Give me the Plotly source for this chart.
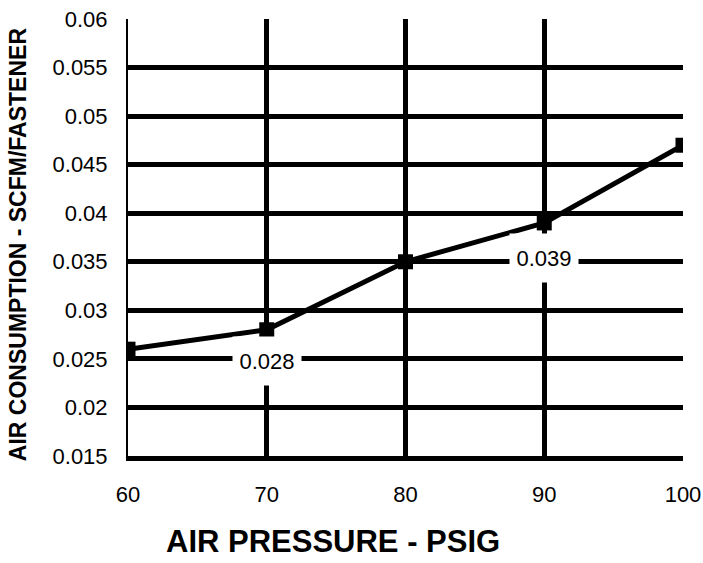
import plotly.graph_objects as go

pressure = [60, 70, 80, 90, 100]
consumption = [0.026, 0.028, 0.035, 0.039, 0.047]
label_x = [70, 90]
label_y = [0.0248, 0.0354]
label_text = ["0.028", "0.039"]
y_ticks = [0.015, 0.02, 0.025, 0.03, 0.035, 0.04, 0.045, 0.05, 0.055, 0.06]
y_tick_text = ["0.015", "0.02", "0.025", "0.03", "0.035", "0.04", "0.045", "0.05", "0.055", "0.06"]
x_ticks = [60, 70, 80, 90, 100]

FONT = "Liberation Sans, Arial, Helvetica, sans-serif"

fig = go.Figure()
fig.add_trace(go.Scatter(
    x=pressure, y=consumption, mode="lines+markers",
    line=dict(color="black", width=5),
    marker=dict(symbol="square", size=15, color="black"),
    showlegend=False, hoverinfo="skip",
))

for xv, yv, t in zip(label_x, label_y, label_text):
    fig.add_annotation(x=xv, y=yv, text=t, showarrow=False,
                       bgcolor="white", width=66, height=46,
                       font=dict(family=FONT, size=22, color="black"))

fig.add_annotation(xref="paper", yref="paper", x=0.37, y=-0.195,
                   text="<b>AIR PRESSURE - PSIG</b>", showarrow=False,
                   xanchor="center", yanchor="middle",
                   font=dict(family=FONT, size=31, color="black"))
fig.add_annotation(xref="paper", yref="paper", x=-0.198, y=0.485,
                   text="<b>AIR CONSUMPTION - SCFM/FASTENER</b>", showarrow=False,
                   textangle=-90, xanchor="center", yanchor="middle",
                   font=dict(family=FONT, size=23, color="black"))

fig.update_layout(
    width=703, height=563,
    margin=dict(l=128, r=20, t=19, b=107),
    paper_bgcolor="white", plot_bgcolor="white",
    font=dict(family=FONT, size=22, color="black"),
    xaxis=dict(range=[60, 100], tickvals=x_ticks, ticks="",
               showgrid=True, gridcolor="black", gridwidth=5,
               showline=True, linecolor="black", linewidth=5, mirror=False,
               zeroline=False, ticklabelstandoff=15, fixedrange=True,
               automargin=False),
    yaxis=dict(range=[0.015, 0.06], tickvals=y_ticks, ticktext=y_tick_text, ticks="",
               showgrid=True, gridcolor="black", gridwidth=5,
               showline=True, linecolor="black", linewidth=2,
               zeroline=False, ticklabelstandoff=14, fixedrange=True,
               automargin=False),
)

fig.write_html("out.html", config={"displayModeBar": False, "staticPlot": True},
               post_script="document.body.style.margin='0';document.body.style.overflow='hidden';")
